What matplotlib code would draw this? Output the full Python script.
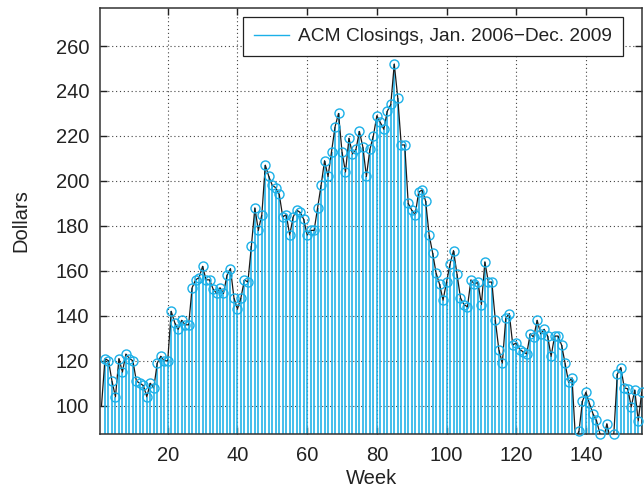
import matplotlib.pyplot as plt
import numpy as np
from matplotlib.lines import Line2D

plt.rcParams['font.family'] = ['Liberation Sans', 'DejaVu Sans']

# weekly closings, week 2 .. week 156
# (the black line also starts at week 1, the stems do not)
start_week = 1
start_close = 100
closes = [
    121, 120, 111, 104, 121, 115, 123, 121, 120, 111,   # 2-11
    110, 109, 104, 110, 108, 119, 122, 120, 120, 142,   # 12-21
    137, 134, 138, 136, 136, 152.5, 156, 157, 162, 156,  # 22-31
    156, 152, 150, 152.5, 150, 158, 161, 148, 143, 148,  # 32-41
    156, 155, 171, 188, 178, 185, 207, 202, 198, 197,   # 42-51
    194, 184, 185, 176, 184, 187, 186, 183, 176, 178,   # 52-61
    178, 188, 198, 209, 202, 213, 224, 230, 213, 204,   # 62-71
    219, 212, 214, 222, 215, 202, 214, 220, 229, 226,   # 72-81
    223, 231, 234, 252, 237, 216, 216, 190, 187, 185,   # 82-91
    195, 196, 191, 176, 168, 159, 154, 147, 155, 163,   # 92-101
    169, 158.5, 148, 145, 144, 156, 154, 155, 145, 164,  # 102-111
    155, 155, 138, 125, 119, 139, 141, 127, 128, 125,   # 112-121
    124, 123, 132, 130.5, 138, 132, 134, 131, 122, 131,  # 122-131
    131, 127, 119, 110.5, 112.4, 85, 88.8, 102, 106, 101,  # 132-141
    96.5, 93.5, 87.6, 85, 92, 85, 87.6, 114, 117, 108,  # 142-151
    107.5, 99.5, 107, 93.3, 106,                        # 152-156
]
weeks = np.arange(2, 2 + len(closes))
closes = np.array(closes)

y_ticks = [100, 120, 140, 160, 180, 200, 220, 240, 260]
x_ticks = [20, 40, 60, 80, 100, 120, 140]
legend_label = 'ACM Closings, Jan. 2006\u2212Dec. 2009'

ylo, yhi = 87.5, 277
cyan = '#1bb0e8'
ink = '#222222'

fig = plt.figure(figsize=(6.44, 4.88), dpi=100)
ax = fig.add_axes([0.156, 0.111, 0.841, 0.873])

# stems down to zero, clipped by the axes like matlab's stem
ax.vlines(weeks, 0, closes, color=cyan, lw=1.15, zorder=2)
ax.plot(np.concatenate([[start_week], weeks]),
        np.concatenate([[start_close], closes]),
        color='#1a1a1a', lw=0.9, zorder=3)
# markers only where the point is inside the y range, but not cut at the edge
shown = closes >= ylo
ax.plot(weeks[shown], closes[shown], 'o', mfc='none', mec=cyan, ms=6.5,
        mew=1.0, zorder=4, clip_on=False)

ax.set_xlim(0.7, 156.1)
ax.set_ylim(ylo, yhi)
ax.set_xticks(x_ticks)
ax.set_yticks(y_ticks)
ax.grid(True, color='#444444', linestyle=(0, (1, 2.5)), lw=0.8)
ax.set_axisbelow(True)
ax.tick_params(direction='in', length=5, width=1.0, colors=ink,
               labelsize=14.5, top=True, right=True)
ax.tick_params(axis='x', pad=8.5)
ax.tick_params(axis='y', pad=8)
for s in ax.spines.values():
    s.set_color('#333333')
    s.set_linewidth(1.1)

ax.set_xlabel('Week', fontsize=14.5, color=ink, labelpad=3)
ax.set_ylabel('Dollars', fontsize=14.5, color=ink, labelpad=18)

handle = Line2D([], [], color=cyan, lw=1.0)
leg = ax.legend([handle], [legend_label], loc='upper right',
                bbox_to_anchor=(0.965, 0.979), fontsize=13.8, fancybox=False,
                framealpha=1, edgecolor='#222222', handlelength=1.8,
                handletextpad=0.5, borderpad=0.58, borderaxespad=0)
leg.get_frame().set_linewidth(0.9)
for t in leg.get_texts():
    t.set_color(ink)

fig.savefig('out.png', dpi=100)
